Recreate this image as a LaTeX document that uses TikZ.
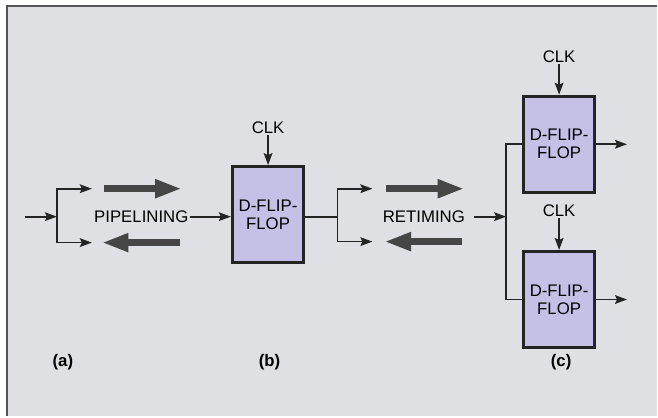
\documentclass[tikz,border=0pt]{standalone}
\usepackage{fontspec}
\setmainfont{Liberation Sans}
\usetikzlibrary{arrows.meta,positioning}
\definecolor{paper}{RGB}{223,224,227}
\definecolor{fffill}{RGB}{196,192,230}
\definecolor{ink}{RGB}{36,36,36}
\definecolor{fat}{RGB}{70,70,70}

\begin{document}
\begin{tikzpicture}[x=0.75pt,y=0.75pt,yscale=-1,xscale=1,
  wire/.style={draw=ink, line width=1.3pt},
  tip/.style={-{Stealth[length=9pt,width=6.5pt,inset=1.5pt]}},
  fatarrow/.style={draw=fat, line width=5.4pt, -{Triangle[length=20pt,width=13pt]}},
  ffbox/.style={draw=ink, line width=2.4pt, fill=fffill, minimum width=53.5pt, minimum height=72pt, inner sep=0pt, align=center, font=\fontsize{12.6}{13.5}\selectfont},
  lbl/.style={inner sep=1pt, font=\fontsize{12.6}{14}\selectfont},
  partlbl/.style={inner sep=1pt, font=\fontsize{12.6}{14}\selectfont\bfseries}]
%background and frame
\fill[white] (0,0) rectangle (658,417);
\fill[paper] (7,6) rectangle (658,417);
\draw[draw={rgb,255:red,85;green,85;blue,85}, line width=1.6pt] (7,417) -- (7,6) -- (658,6);
%flip-flops
\node[ffbox] (ffb) at (268.5,215) {D-FLIP-\\FLOP};
\node[ffbox] (ffu) at (560,144.5) {D-FLIP-\\FLOP};
\node[ffbox] (ffl) at (560,300) {D-FLIP-\\FLOP};
%texts
\node[lbl] (clkb) at (268.5,128) {CLK};
\node[lbl] (clku) at (560,57) {CLK};
\node[lbl] (clkl) at (560,211) {CLK};
\node[lbl] (pipe) at (141.5,217) {PIPELINING};
\node[lbl] (retime) at (424.5,217) {RETIMING};
\node[partlbl] (parta) at (63,363) {(a)};
\node[partlbl] (partb) at (270,363) {(b)};
\node[partlbl] (partc) at (562,363) {(c)};
%coordinates
\coordinate (in) at (25,217);
\coordinate (forka) at (57,217);
\coordinate (upa) at (92,189);
\coordinate (dna) at (92,243);
\coordinate (forkb) at (338,217);
\coordinate (upb) at (373,189);
\coordinate (dnb) at (373,242);
\coordinate (forkc) at (507,217);
\coordinate (outu) at (628,144.5);
\coordinate (outl) at (628,300);
%clock inputs
\draw[wire,tip] (clkb) -- (ffb.north);
\draw[wire,tip] (clku) -- (ffu.north);
\draw[wire,tip] (clkl) -- (ffl.north);
%(a)
\draw[wire,tip] (in) -- (forka);
\draw[wire,tip] (forka) |- (upa);
\draw[wire,tip] (forka) |- (dna);
\draw[fatarrow] (104,189) -- (182,189);
\draw[fatarrow] (180,243) -- (102,243);
\draw[wire,tip] (pipe.east) -- (pipe.east -| ffb.west);
%(b)
\draw[wire] (ffb.east |- forkb) -- (forkb);
\draw[wire,tip] (forkb) |- (upb);
\draw[wire,tip] (forkb) |- (dnb);
\draw[fatarrow] (387,189) -- (465,189);
\draw[fatarrow] (463,242) -- (385,242);
%(c)
\draw[wire,tip] ([xshift=6pt]retime.east) -- (forkc);
\draw[wire] (ffu.west) -| (forkc) |- (ffl.west);
\draw[wire,tip] (ffu.east) -- (outu);
\draw[wire,tip] (ffl.east) -- (outl);
\end{tikzpicture}
\end{document}
